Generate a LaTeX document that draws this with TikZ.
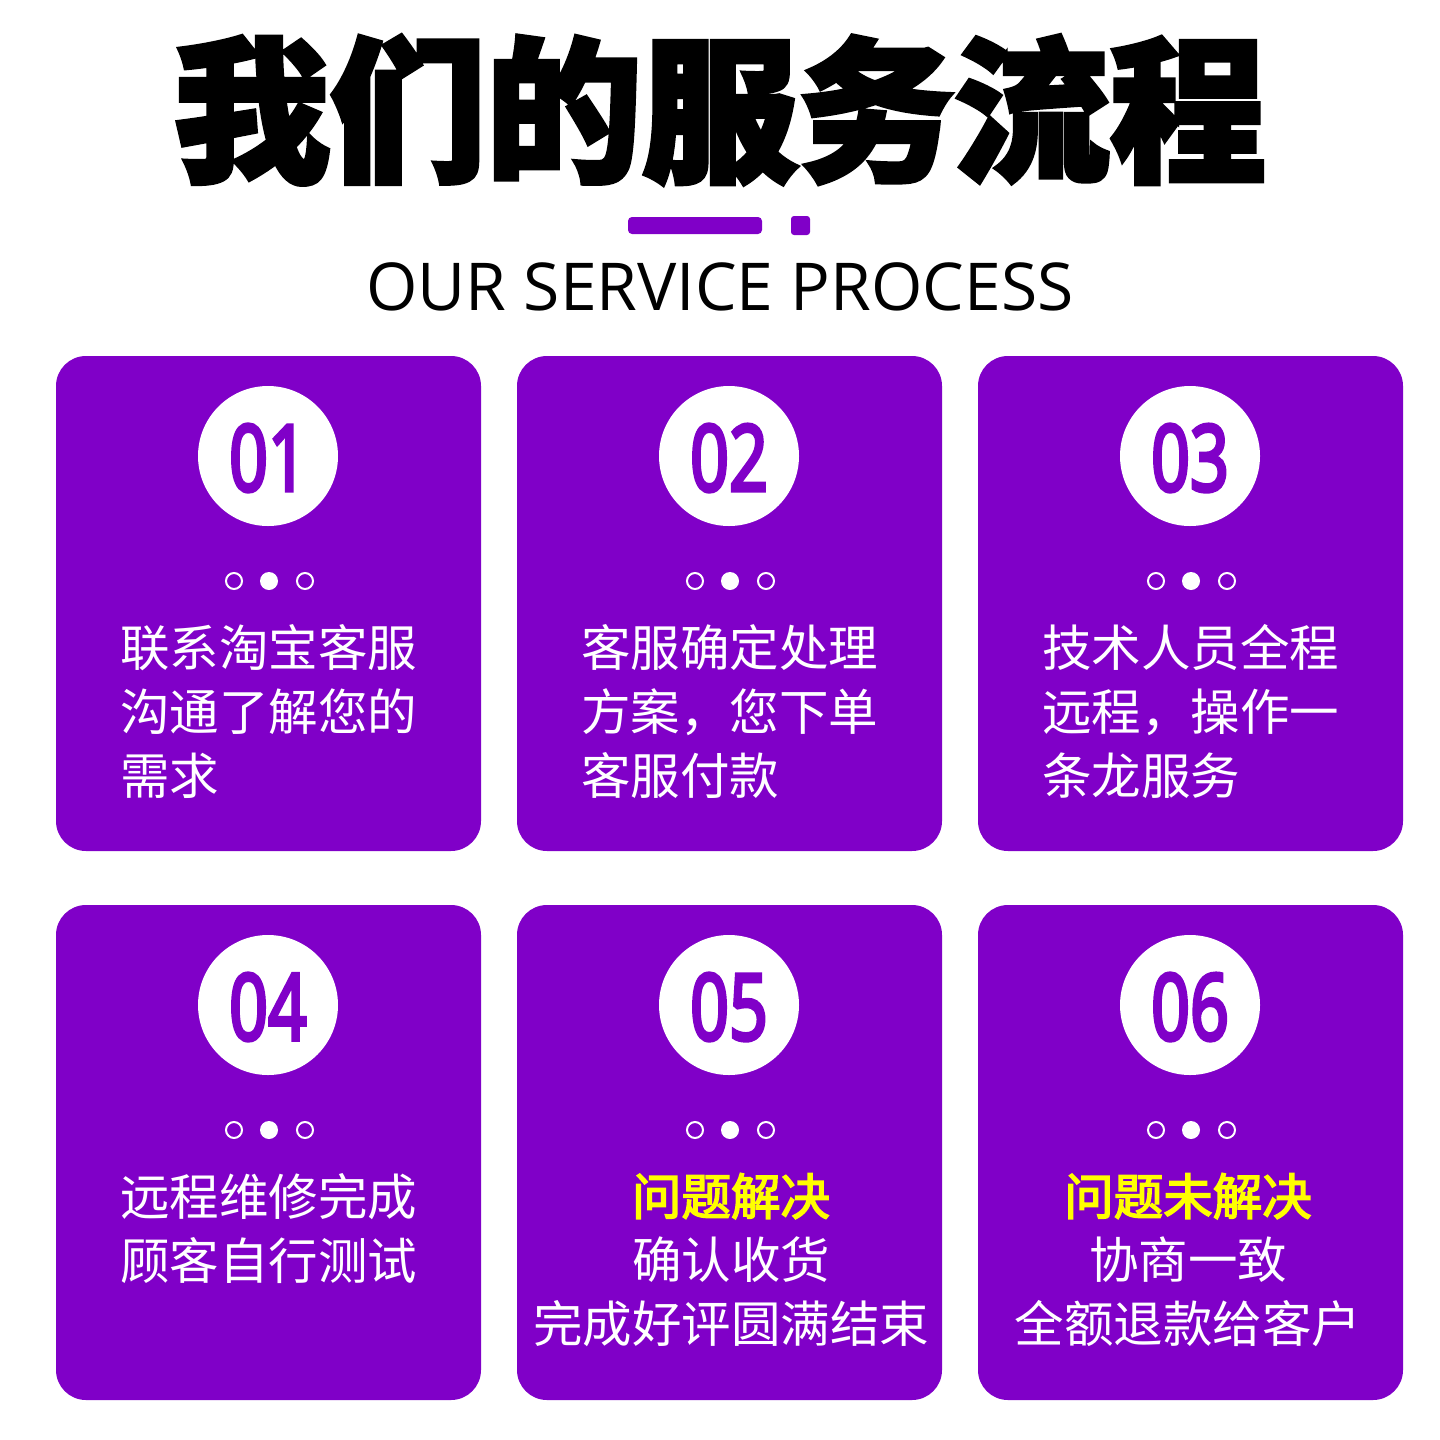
\documentclass[tikz,border=0pt]{standalone}
\usepackage{fontspec}
\newfontfamily\cjk{Noto Sans CJK SC}
\newfontfamily\cjkb{Noto Sans CJK SC}[FakeBold=3]
\newfontfamily\latin{Open Sans}
\newfontfamily\numf{Noto Sans}[FakeBold=4]
\definecolor{pp}{RGB}{128,0,200}
\definecolor{yy}{RGB}{255,255,0}
\tikzset{card/.style={fill=pp,rounded corners=30pt},
 numc/.style={circle,fill=white,minimum size=140pt,inner sep=0},
 numt/.style={text=pp,font=\numf\bfseries\fontsize{92}{92}\selectfont,xscale=0.74},
 dotw/.style={circle,fill=white,minimum size=18pt,inner sep=0},
 doto/.style={circle,draw=white,line width=2pt,minimum size=16pt,inner sep=0},
 body/.style={text=white,font=\cjk\fontsize{49.5}{64}\selectfont,inner sep=0}}
\begin{document}
\begin{tikzpicture}[x=1pt,y=-1pt]
\useasboundingbox (0,0) rectangle (1440,1440);
\node[font=\cjkb\bfseries\fontsize{156}{156}\selectfont,inner sep=0] (title) at (720,110) {我们的服务流程};
\fill[pp,rounded corners=4pt] (628,217) rectangle (762,234);
\fill[pp,rounded corners=3pt] (791,216) rectangle (810,235);
\node[font=\latin\fontsize{66}{66}\selectfont,inner sep=0] (sub) at (720,287) {OUR SERVICE PROCESS};
\foreach \i/\x/\y/\n in {1/56/356/01,2/517/356/02,3/978/356/03,4/56/905/04,5/517/905/05,6/978/905/06}{
 \fill[card] (\x,\y) rectangle ++(425,495);
 \node[numc] (c\i) at (\x+212,\y+100) {};
 \node[numt] (n\i) at (\x+212,\y+102) {\n};
 \node[doto] (da\i) at (\x+178,\y+225) {};
 \node[dotw] (db\i) at (\x+213,\y+225) {};
 \node[doto] (dc\i) at (\x+249,\y+225) {};
}
\node[body,align=left,anchor=north west] (t1) at (120,624) {联系淘宝客服\\沟通了解您的\\需求};
\node[body,align=left,anchor=north west] (t2) at (581,624) {客服确定处理\\方案，您下单\\客服付款};
\node[body,align=left,anchor=north west] (t3) at (1042,624) {技术人员全程\\远程，操作一\\条龙服务};
\node[body,align=left,anchor=north west] (t4) at (120,1173) {远程维修完成\\顾客自行测试};
\node[body,align=center,anchor=north] (t5) at (731,1173) {\textcolor{yy}{\cjkb 问题解决}\\确认收货\\完成好评圆满结束};
\node[body,align=center,anchor=north] (t6) at (1188,1173) {\textcolor{yy}{\cjkb 问题未解决}\\协商一致\\全额退款给客户};
\end{tikzpicture}
\end{document}
